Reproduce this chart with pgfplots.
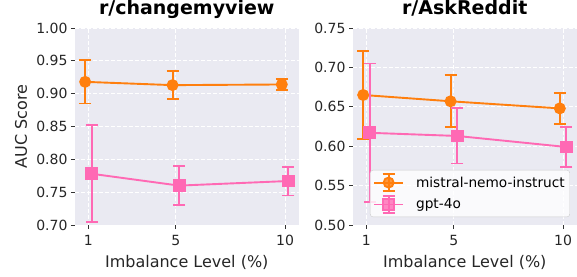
\documentclass[border=0pt]{standalone}
\usepackage{pgfplots}
\pgfplotsset{compat=1.18}
\usepackage{fontspec}
\setmainfont{DejaVu Sans}
\definecolor{bg}{HTML}{EAEAF2}
\definecolor{myorange}{HTML}{FF7F0E}
\definecolor{mypink}{HTML}{FF69B4}
\definecolor{tickc}{HTML}{333333}
\pgfplotsset{
  mystyle/.style={
    scale only axis, width=223.5pt, height=197pt,
    xmin=0.385, xmax=10.615,
    xtick={1,5,10},
    axis background/.style={fill=bg},
    grid=major,
    major grid style={white, dash pattern=on 4pt off 2pt, line width=0.9pt},
    axis line style={draw=none},
    tick align=outside, major tick length=4pt,
    tick style={tickc, line width=0.9pt},
    tick pos=left,
    /pgf/number format/assume math mode=true,
    tick label style={font=\fontsize{14}{14}\selectfont, text=black!85},
    yticklabel style={/pgf/number format/.cd, fixed, fixed zerofill, precision=2},
    xticklabel style={yshift=-3pt},
    xlabel={Imbalance Level (\%)},
    xlabel style={at={(axis description cs:0.5,0)}, anchor=base, yshift=-42pt, font=\fontsize{16}{16}\selectfont, text=black!85},
    title style={at={(axis description cs:0.5,1)}, anchor=base, yshift=7.3pt, font=\fontsize{19}{19}\selectfont\bfseries},
    legend image code/.code={
      \draw[##1, mark=none, line width=1.9pt] (0pt,0pt) -- (29pt,0pt);
      \draw[##1, mark=none, line width=1.9pt] (14.5pt,-8.5pt) -- (14.5pt,8.5pt);
      \draw[##1, mark=none, line width=1.9pt] (8.5pt,8.5pt) -- (20.5pt,8.5pt);
      \draw[##1, mark=none, line width=1.9pt] (8.5pt,-8.5pt) -- (20.5pt,-8.5pt);
      \draw[##1] plot coordinates {(14.5pt,0pt)};
    },
  },
  orangeplot/.style={myorange, line width=1.9pt, mark=*, mark size=5pt, mark options={solid},
    /pgfplots/error bars/y dir=both,
    /pgfplots/error bars/y explicit,
    /pgfplots/error bars/error bar style={line width=1.9pt, myorange},
    /pgfplots/error bars/error mark options={rotate=90, line width=1.9pt, mark size=6pt, myorange}},
  pinkplot/.style={mypink, line width=1.9pt, mark=square*, mark size=5.5pt, mark options={solid},
    /pgfplots/error bars/y dir=both,
    /pgfplots/error bars/y explicit,
    /pgfplots/error bars/error bar style={line width=1.9pt, mypink},
    /pgfplots/error bars/error mark options={rotate=90, line width=1.9pt, mark size=6pt, mypink}},
}
\begin{document}
\begin{tikzpicture}
\useasboundingbox (0,0) rectangle (577pt,276pt);
\begin{axis}[mystyle, at={(75pt,51pt)}, anchor=south west,
  ymin=0.70, ymax=1.00, ytick={0.70,0.75,0.80,0.85,0.90,0.95,1.00},
  title={r/changemyview},
  ylabel={AUC Score},
  ylabel style={at={(axis description cs:0,0.5)}, anchor=center, rotate=0, yshift=54pt, font=\fontsize{16}{16}\selectfont, text=black!85},
]
\addplot[orangeplot] coordinates {
  (0.85,0.918) +- (0,0.033)
  (4.85,0.913) +- (0,0.021)
  (9.85,0.914) +- (0,0.009)
};
\addplot[pinkplot] coordinates {
  (1.15,0.778) +- (0,0.074)
  (5.15,0.760) +- (0,0.030)
  (10.15,0.767) +- (0,0.022)
};
\end{axis}
\begin{axis}[mystyle, at={(353pt,51pt)}, anchor=south west,
  ymin=0.50, ymax=0.75, ytick={0.50,0.55,0.60,0.65,0.70,0.75},
  title={r/AskReddit},
  legend cell align=left,
  legend style={at={(axis description cs:0.076,0.04)}, anchor=south west,
    draw=black!20, rounded corners=3pt, fill=white, fill opacity=0.8, text opacity=1,
    font=\fontsize{13.7}{14}\selectfont, row sep=3pt, column sep=10pt, inner xsep=3pt, inner ysep=3pt},
]
\addplot[orangeplot] coordinates {
  (0.85,0.665) +- (0,0.056)
  (4.85,0.657) +- (0,0.033)
  (9.85,0.648) +- (0,0.020)
};
\addlegendentry{mistral-nemo-instruct}
\addplot[pinkplot] coordinates {
  (1.15,0.617) +- (0,0.088)
  (5.15,0.613) +- (0,0.035)
  (10.15,0.599) +- (0,0.025)
};
\addlegendentry{gpt-4o}
\end{axis}
\end{tikzpicture}
\end{document}
